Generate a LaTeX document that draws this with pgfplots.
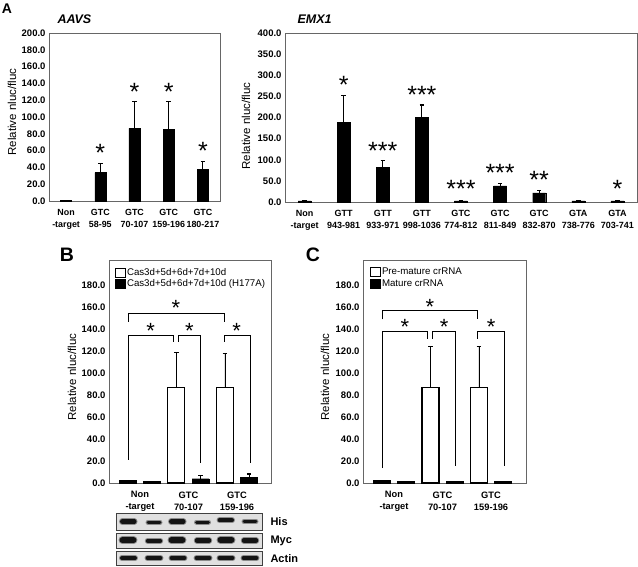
\documentclass[border=0pt]{standalone}
\usepackage{fontspec}
\setmainfont{Liberation Sans}
\usepackage{pgfplots}
\pgfplotsset{compat=1.18}
\begin{document}
\begin{tikzpicture}
\useasboundingbox (0pt,0pt) rectangle (638pt,-566pt);
\tikzset{
  sigA/.style={font=\fontsize{25}{25}\selectfont, inner sep=0pt, anchor=base, yshift=-14.3pt},
  sigB/.style={font=\fontsize{22}{22}\selectfont, inner sep=0pt, anchor=base, yshift=-12.6pt},
}
\pgfplotsset{
  base/.style={
    scale only axis, clip=false,
    axis line style={draw=black!60, line width=0.8pt},
    major tick length=0pt,
    ymin=0,
    /pgf/number format/assume math mode=true,
    yticklabel style={font=\bfseries\fontsize{9.5}{9.5}\selectfont,
      /pgf/number format/.cd, fixed, fixed zerofill, precision=1},
    xticklabel style={font=\bfseries\fontsize{9.3}{12}\selectfont, align=center, yshift=-5pt},
    ylabel style={font=\fontsize{11.5}{11.5}\selectfont, anchor=center},
    legend style={at={(axis description cs:0,1)}, anchor=north west, draw=none, fill=none,
      font=\fontsize{9.7}{9.7}\selectfont, row sep=1.2pt, inner xsep=6pt, inner ysep=5pt,
      yshift=-2pt, nodes={inner sep=1pt}, cells={anchor=west}},
  },
  bars/.style={ybar, bar width=#1, bar shift=0pt, fill=black, draw=black,
    error bars/y dir=plus, error bars/y explicit,
    error bars/error bar style={black, line width=0.8pt},
    error bars/error mark options={black, line width=1.2pt, mark size=2.2pt, rotate=90}},
  wsq/.style={legend image code/.code={\draw[fill=white, draw=black, line width=0.8pt] (0pt,-4.5pt) rectangle (10pt,4.5pt);}},
  bsq/.style={legend image code/.code={\draw[fill=black, draw=black, line width=0.8pt] (0pt,-4.5pt) rectangle (10pt,4.5pt);}},
  br/.style={black, line width=0.8pt, no marks, forget plot, sharp plot},
  blot/.style={scale only axis, xmin=116, xmax=262, ymin=0, ymax=1,
    xtick=\empty, ytick=\empty, width=146pt,
    axis line style={draw=black!75, line width=0.8pt},
    axis background/.style={fill=black!12}},
  band/.style={line cap=round, no marks, unbounded coords=jump, forget plot},
}

% panel letters and titles
\node[font=\bfseries\fontsize{14}{14}\selectfont] at (7pt,-9pt) {A};
\node[font=\bfseries\itshape\fontsize{12.5}{12.5}\selectfont, anchor=west] at (54pt,-19pt) {AAVS};
\node[font=\bfseries\itshape\fontsize{12.5}{12.5}\selectfont, anchor=west] at (294pt,-19.5pt) {EMX1};
\node[font=\bfseries\fontsize{19.5}{19.5}\selectfont] at (67pt,-255pt) {B};
\node[font=\bfseries\fontsize{19.5}{19.5}\selectfont] at (313pt,-254.5pt) {C};

% ---------------- AAVS ----------------
\begin{axis}[base, at={(49pt,-201pt)}, anchor=south west, width=171pt, height=168pt,
  xmin=-0.5, xmax=4.5, ymax=200, ytick={0,20,...,200},
  xtick={0,1,2,3,4},
  xticklabel style={font=\bfseries\fontsize{8.9}{12}\selectfont},
  xticklabels={Non\\-target, GTC\\58-95, GTC\\70-107, GTC\\159-196, GTC\\180-217},
  ylabel={Relative nluc/fluc},
  ylabel style={at={(axis description cs:-0.216,0.53)}}]
\addplot[bars=11pt] table[x=x, y=y, y error=e, row sep=\\]{
x y e\\ 0 1 0\\ 1 33.9 10.7\\ 2 86.5 31.8\\ 3 85.7 32.6\\ 4 37.5 9.9\\};
\node[sigA] at (axis cs:1,64.5) {*};
\node[sigA] at (axis cs:2,137) {*};
\node[sigA] at (axis cs:3,137) {*};
\node[sigA] at (axis cs:4,66.5) {*};
\end{axis}

% ---------------- EMX1 ----------------
\begin{axis}[base, at={(285pt,-202pt)}, anchor=south west, width=352pt, height=169pt,
  xmin=-0.5, xmax=8.5, ymax=400, ytick={0,50,...,400},
  xtick={0,...,8},
  xticklabel style={font=\bfseries\fontsize{9}{12}\selectfont},
  xticklabels={Non\\-target, GTT\\943-981, GTT\\933-971, GTT\\998-1036, GTC\\774-812,
    GTC\\811-849, GTC\\832-870, GTA\\738-776, GTA\\703-741},
  ylabel={Relative nluc/fluc},
  ylabel style={at={(axis description cs:-0.111,0.45)}}]
\addplot[bars=13pt] table[x=x, y=y, y error=e, row sep=\\]{
x y e\\ 0 2.4 0\\ 1 189.3 62.8\\ 2 81.9 15.9\\ 3 201 28.6\\ 4 2.4 0\\
5 38.2 5.5\\ 6 21.5 5.5\\ 7 2.4 0\\ 8 2.4 0.8\\};
\node[sigA] at (axis cs:1,290) {*};
\node[sigA] at (axis cs:2,135) {***};
\node[sigA] at (axis cs:3,268) {***};
\node[sigA] at (axis cs:4,44) {***};
\node[sigA] at (axis cs:5,83) {***};
\node[sigA] at (axis cs:6,66) {**};
\node[sigA] at (axis cs:8,44) {*};
\end{axis}

% ---------------- B ----------------
\begin{axis}[base, at={(109pt,-483pt)}, anchor=south west, width=162pt, height=223pt,
  xmin=-0.639, xmax=2.70, ymax=202.7, ytick={0,20,...,180},
  xtick={0,1,2},
  xticklabels={Non\\-target, GTC\\70-107, GTC\\159-196},
  ylabel={Relative nluc/fluc},
  ylabel style={at={(axis description cs:-0.228,0.475)}}]
\addplot[bars=17pt, fill=white, line width=1.2pt, wsq]
  table[x=x, y=y, y error=e, row sep=\\]{
x y e\\ -0.25 1.8 0\\ 0.75 87.1 31.5\\ 1.75 86.5 31.5\\};
\addlegendentry{Cas3d+5d+6d+7d+10d}
\addplot[bars=17pt, bsq]
  table[x=x, y=y, y error=e, row sep=\\]{
x y e\\ 0.25 1.2 0\\ 1.25 3.9 3.1\\ 2.25 5.4 2.8\\};
\addlegendentry{Cas3d+5d+6d+7d+10d (H177A)}
\addplot[br] coordinates {(-0.247,146.7) (-0.247,154.3) (1.732,154.3) (1.732,146.7)};
\addplot[br] coordinates {(-0.247,21.2) (-0.247,134.6) (0.687,134.6) (0.687,128.6)};
\addplot[br] coordinates {(0.79,128.6) (0.79,134.6) (1.252,134.6) (1.252,18.1)};
\addplot[br] coordinates {(1.732,128.6) (1.732,134.6) (2.268,134.6) (2.268,18.1)};
\node[sigB] at (axis cs:0.74,163.3) {*};
\node[sigB] at (axis cs:0.22,142.8) {*};
\node[sigB] at (axis cs:1.017,142.8) {*};
\node[sigB] at (axis cs:1.994,142.8) {*};
\end{axis}

% ---------------- C ----------------
\begin{axis}[base, at={(363pt,-483pt)}, anchor=south west, width=163pt, height=223pt,
  xmin=-0.639, xmax=2.72, ymax=202.7, ytick={0,20,...,180},
  xtick={0,1,2},
  xticklabels={Non\\-target, GTC\\70-107, GTC\\159-196},
  ylabel={Relative nluc/fluc},
  ylabel style={at={(axis description cs:-0.233,0.475)}},
  legend style={inner xsep=7pt}]
\addplot[bars=17pt, fill=white, line width=1.2pt, wsq]
  table[x=x, y=y, y error=e, row sep=\\]{
x y e\\ -0.25 1.8 0\\ 0.75 87.1 36.9\\ 1.75 86.5 37.5\\};
\addlegendentry{Pre-mature crRNA}
\addplot[bars=17pt, bsq]
  table[x=x, y=y, y error=e, row sep=\\]{
x y e\\ 0.25 1.5 0\\ 1.25 1.5 0\\ 2.25 1.5 0\\};
\addlegendentry{Mature crRNA}
\addplot[br] coordinates {(-0.247,148.8) (-0.247,156.7) (1.726,156.7) (1.726,148.8)};
\addplot[br] coordinates {(-0.247,13.6) (-0.247,138.2) (0.687,138.2) (0.687,131)};
\addplot[br] coordinates {(0.798,131) (0.798,138.2) (1.258,138.2) (1.258,15.1)};
\addplot[br] coordinates {(1.726,131) (1.726,138.2) (2.275,138.2) (2.275,15.1)};
\node[sigB] at (axis cs:0.742,164.9) {*};
\node[sigB] at (axis cs:0.227,146.1) {*};
\node[sigB] at (axis cs:1.031,146.1) {*};
\node[sigB] at (axis cs:2.0,146.1) {*};
\end{axis}

% ---------------- blots ----------------
\begin{axis}[blot, at={(116pt,-530pt)}, anchor=south west, height=17pt]
\addplot[band, black!45, line width=6.5pt] coordinates {(122.3,0.5) (134.3,0.5) (150,nan) (171.3,0.5) (183.3,0.5) (200,nan) (219.8,0.58) (231.8,0.58)};
\addplot[band, black!92, line width=4.5pt] coordinates {(122.3,0.5) (134.3,0.5) (150,nan) (171.3,0.5) (183.3,0.5) (200,nan) (219.8,0.58) (231.8,0.58)};
\addplot[band, black!45, line width=5pt] coordinates {(148,0.45) (160,0.45) (180,nan) (196.5,0.47) (208.5,0.47) (230,nan) (244,0.5) (256,0.5)};
\addplot[band, black!92, line width=3pt] coordinates {(148,0.45) (160,0.45) (180,nan) (196.5,0.47) (208.5,0.47) (230,nan) (244,0.5) (256,0.5)};
\end{axis}
\begin{axis}[blot, at={(116pt,-548pt)}, anchor=south west, height=15pt]
\addplot[band, black!45, line width=8pt] coordinates {(122.5,0.52) (133.5,0.52) (150,nan) (171.5,0.52) (182.5,0.52) (200,nan) (220.5,0.55) (231.5,0.55)};
\addplot[band, black!92, line width=6pt] coordinates {(122.5,0.52) (133.5,0.52) (150,nan) (171.5,0.52) (182.5,0.52) (200,nan) (220.5,0.55) (231.5,0.55)};
\addplot[band, black!45, line width=6.5pt] coordinates {(148,0.48) (160,0.48) (180,nan) (197,0.5) (209,0.5) (230,nan) (244,0.5) (256,0.5)};
\addplot[band, black!92, line width=4.5pt] coordinates {(148,0.48) (160,0.48) (180,nan) (197,0.5) (209,0.5) (230,nan) (244,0.5) (256,0.5)};
\end{axis}
\begin{axis}[blot, at={(116pt,-565.5pt)}, anchor=south west, height=14.5pt]
\addplot[band, black!45, line width=6pt] coordinates {(122,0.52) (135,0.52) (140,nan) (147.5,0.52) (160.5,0.52) (165,nan) (171.5,0.52) (184.5,0.52) (190,nan) (196.5,0.52) (209.5,0.52) (215,nan) (219.5,0.52) (232.5,0.52) (238,nan) (243.5,0.52) (256.5,0.52)};
\addplot[band, black!92, line width=4pt] coordinates {(122,0.52) (135,0.52) (140,nan) (147.5,0.52) (160.5,0.52) (165,nan) (171.5,0.52) (184.5,0.52) (190,nan) (196.5,0.52) (209.5,0.52) (215,nan) (219.5,0.52) (232.5,0.52) (238,nan) (243.5,0.52) (256.5,0.52)};
\end{axis}
\node[font=\bfseries\fontsize{11}{11}\selectfont, anchor=west] at (267pt,-521.5pt) {His};
\node[font=\bfseries\fontsize{11}{11}\selectfont, anchor=west] at (267pt,-541pt) {Myc};
\node[font=\bfseries\fontsize{11}{11}\selectfont, anchor=west] at (267pt,-558.5pt) {Actin};
\end{tikzpicture}
\end{document}
